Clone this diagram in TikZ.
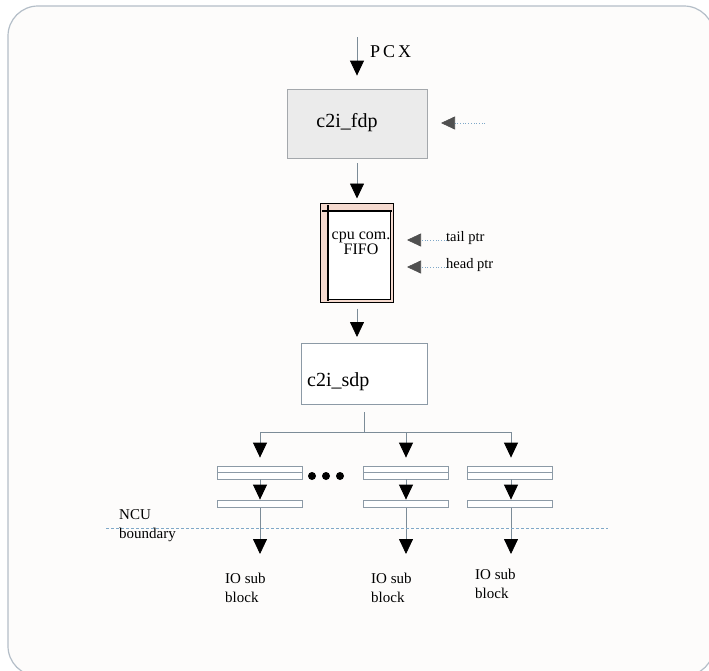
\documentclass[tikz,border=0pt]{standalone}
\usepackage{fontspec}
\setmainfont{Liberation Serif}
\usetikzlibrary{arrows.meta}
\definecolor{framec}{HTML}{B4BEC8}
\definecolor{linec}{HTML}{7C8C98}
\definecolor{boxc}{HTML}{8C9AA6}
\definecolor{fdpfill}{HTML}{EBEBEB}
\definecolor{fdpline}{HTML}{A4A8AC}
\definecolor{pinkc}{HTML}{F5DACF}
\definecolor{dotc}{HTML}{7FA8C8}
\definecolor{ptrc}{HTML}{505050}
\definecolor{bgc}{HTML}{FDFCFB}
\begin{document}
\begin{tikzpicture}[x=1pt,y=-1pt,
  conn/.style={draw=linec, line width=0.8pt, -{Triangle[width=14pt,length=15pt,color=black]}},
  plain/.style={draw=linec, line width=0.8pt},
  ptr/.style={draw=dotc, dotted, line width=0.7pt, -{Triangle[width=13pt,length=14pt,color=ptrc]}},
  lbl/.style={inner sep=0pt, font=\fontsize{15}{19}\selectfont, align=left},
  biglbl/.style={inner sep=0pt, font=\fontsize{20}{24}\selectfont},
  reg/.style={draw=boxc, line width=0.8pt, fill=white, minimum width=85pt, minimum height=13pt, inner sep=0pt,
    path picture={\draw[boxc, line width=0.8pt] (path picture bounding box.west) -- (path picture bounding box.east);}},
  regb/.style={draw=boxc, line width=0.8pt, fill=white, minimum width=85pt, minimum height=7pt, inner sep=0pt},
  dotn/.style={circle, fill=black, inner sep=0pt, minimum size=8pt}
]
\useasboundingbox (0,0) rectangle (709,670);
\fill[white] (0,0) rectangle (709,670);
\draw[framec, fill=bgc, line width=1.2pt, rounded corners=30pt] (8,6) rectangle (714,676);

% PCX input
\coordinate (pcxin) at (357,37);
\node[inner sep=0pt, anchor=west, font=\fontsize{18}{20}\selectfont] (pcx) at (370,52) {P\,C\,X};

% c2i_fdp
\node[draw=fdpline, fill=fdpfill, line width=0.8pt, minimum width=140pt, minimum height=69pt, inner sep=0pt] (fdp) at (357,123.5) {};
\node[biglbl] (fdptxt) at (347,123) {c2i\_fdp};
\draw[conn, shorten >=13pt] (pcxin) -- (fdp.north);
\coordinate (fdpside) at (485,123);
\coordinate (fdptip) at (441,123);
\draw[ptr] (fdpside) -- (fdptip);

% FIFO
\node[draw=black, fill=white, line width=1pt, double=pinkc, double distance=1.2pt, minimum width=70pt, minimum height=96pt, inner sep=0pt] (fifo) at (357,253) {};
\fill[pinkc] (322.5,205.5) rectangle (328,300.5);
\fill[pinkc] (322.5,205.5) rectangle (391.5,211);
\draw[black, line width=1.4pt] (328,205) -- (328,301);
\draw[black, line width=1.4pt] (322,211) -- (392,211);
\node[inner sep=0pt, align=center, font=\fontsize{16}{15}\selectfont] (fifotxt) at (361,243) {cpu com.\\FIFO};
\draw[conn, shorten <=5pt, shorten >=6pt] (fdp.south) -- (fifo.north);

% pointers
\coordinate (tailsrc) at (447,240);
\coordinate (tailtip) at (407,240);
\coordinate (headsrc) at (447,267);
\coordinate (headtip) at (407,267);
\draw[ptr] (tailsrc) -- (tailtip);
\draw[ptr] (headsrc) -- (headtip);
\node[inner sep=0pt, anchor=west, font=\fontsize{14.5}{16}\selectfont] (tailtxt) at (446,238) {tail ptr};
\node[inner sep=0pt, anchor=west, font=\fontsize{14.5}{16}\selectfont] (headtxt) at (446,265) {head ptr};

% c2i_sdp
\node[draw=boxc, fill=white, line width=0.8pt, minimum width=126pt, minimum height=61pt, inner sep=0pt] (sdp) at (364,373.5) {};
\node[biglbl, anchor=west] (sdptxt) at (307,382) {c2i\_sdp};
\coordinate (sdpin) at (357,343);
\draw[conn, shorten <=7pt, shorten >=6pt] (fifo.south -| sdpin) -- (sdpin);

% bus
\coordinate (stemtop) at (364,412);
\coordinate (bus) at (364,432);
\coordinate (b1) at (260,432);
\coordinate (b2) at (406,432);
\coordinate (b3) at (511,432);
\draw[plain] (stemtop) -- (bus);
\draw[plain] (b1) -- (b3);

% registers
\node[reg] (r1a) at (259.5,472.5) {};
\node[reg] (r2a) at (405.5,472.5) {};
\node[reg] (r3a) at (510,472.5) {};
\node[regb] (r1b) at (259.5,504) {};
\node[regb] (r2b) at (405.5,504) {};
\node[regb] (r3b) at (510,504) {};

\draw[conn, shorten >=8pt] (b1) -- (b1 |- r1a.north);
\draw[conn, shorten >=8pt] (b2) -- (b2 |- r2a.north);
\draw[conn, shorten >=8pt] (b3) -- (b3 |- r3a.north);
\draw[conn, shorten >=0.5pt] (b1 |- r1a.south) -- (b1 |- r1b.north);
\draw[conn, shorten >=0.5pt] (b2 |- r2a.south) -- (b2 |- r2b.north);
\draw[conn, shorten >=0.5pt] (b3 |- r3a.south) -- (b3 |- r3b.north);

\coordinate (o1) at (260,554);
\coordinate (o2) at (406,554);
\coordinate (o3) at (511,554);
\draw[conn] (b1 |- r1b.south) -- (o1);
\draw[conn] (b2 |- r2b.south) -- (o2);
\draw[conn] (b3 |- r3b.south) -- (o3);

% dots
\node[dotn] (d1) at (312,476) {};
\node[dotn] (d2) at (326,476) {};
\node[dotn] (d3) at (340,476) {};

% boundary
\coordinate (bl) at (106,528);
\coordinate (br) at (608,528);
\draw[dotc, line width=0.8pt, dash pattern=on 3pt off 2pt] (bl) -- (br);
\node[lbl, anchor=west] (ncu) at (119,526) {NCU\\boundary};

% IO sub blocks
\node[lbl, anchor=west] (io1) at (225,587.5) {IO sub\\block};
\node[lbl, anchor=west] (io2) at (371,587.5) {IO sub\\block};
\node[lbl, anchor=west] (io3) at (475,584) {IO sub\\block};
\end{tikzpicture}
\end{document}
